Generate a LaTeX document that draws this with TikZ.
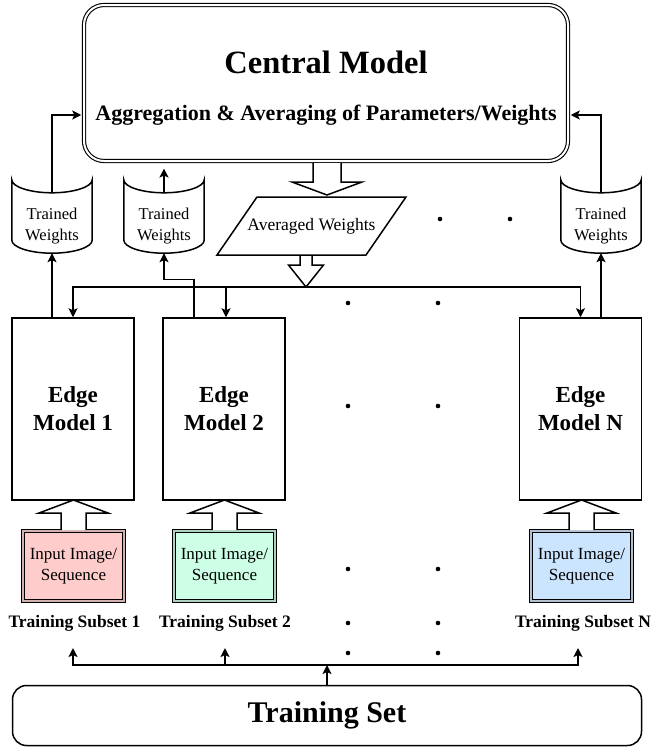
\documentclass[tikz,border=0pt]{standalone}
\usepackage{fontspec}
\setmainfont{Liberation Serif}
\usetikzlibrary{arrows.meta}
\definecolor{inpink}{RGB}{255,204,204}
\definecolor{ingreen}{RGB}{204,255,230}
\definecolor{inblue}{RGB}{204,229,255}
% outline of a "Trained Weights" store round a node
\newcommand{\storeshape}[1]{%
\draw[line] ([yshift=13pt]#1.north west) .. controls ([yshift=6pt]#1.north west) and ([xshift=-22pt]#1.north) .. (#1.north)
  .. controls ([xshift=22pt]#1.north) and ([yshift=6pt]#1.north east) .. ([yshift=13pt]#1.north east)
  -- ([yshift=13pt]#1.south east) .. controls ([yshift=6pt]#1.south east) and ([xshift=22pt]#1.south) .. (#1.south)
  .. controls ([xshift=-22pt]#1.south) and ([yshift=6pt]#1.south west) .. ([yshift=13pt]#1.south west) -- cycle;}
% block arrow: x, y of shaft end, y of head base, y of tip, half shaft, half head
\newcommand{\blockarr}[6]{%
\draw[line, fill=white] (#1-#5,#2) -- (#1-#5,#3) -- (#1-#6,#3) -- (#1,#4) -- (#1+#6,#3) -- (#1+#5,#3) -- (#1+#5,#2);}
\begin{document}
\begin{tikzpicture}[x=1pt,y=1pt,
  line/.style={line width=1.5pt, line join=miter},
  arr/.style={line, -{Stealth[length=9pt,width=9pt,inset=2pt]}},
  central/.style={draw, line width=1.1pt, double, double distance=2pt, rounded corners=20pt,
    minimum width=484pt, minimum height=156pt},
  edgebox/.style={draw, line, minimum width=122pt, minimum height=182pt, align=center,
    font=\fontsize{23}{28}\selectfont\bfseries},
  store/.style={minimum width=80pt, minimum height=60pt, inner sep=0pt},
  storetext/.style={yshift=-3pt, align=center, font=\fontsize{16.5}{21.5}\selectfont},
  inbox/.style={draw, line width=1.3pt, double=#1!65!gray, double distance=1.6pt, fill=#1,
    minimum width=101pt, minimum height=70pt, inner sep=0pt, align=center,
    font=\fontsize{17}{21}\selectfont},
  subset/.style={font=\fontsize{17.5}{21}\selectfont\bfseries},
  tset/.style={draw, line, rounded corners=14pt, minimum width=629pt, minimum height=60pt,
    font=\fontsize{30}{36}\selectfont\bfseries}]
\useasboundingbox (0,0) rectangle (652,-747);

% central model
\node[central] (cm) at (326,-83) {};
\node[font=\fontsize{32.5}{39}\selectfont\bfseries] (ctitle) at (326,-62) {Central Model};
\node[font=\fontsize{22}{26}\selectfont\bfseries] (csub) at (326,-115) {Aggregation \& Averaging of Parameters/Weights};

% trained weights
\node[store, label={[storetext]center:{Trained\\Weights}}] (tw1) at (52,-223) {};
\node[store, label={[storetext]center:{Trained\\Weights}}] (tw2) at (164,-223) {};
\node[store, label={[storetext]center:{Trained\\Weights}}] (twN) at (601,-223) {};
\storeshape{tw1}
\storeshape{tw2}
\storeshape{twN}

% averaged weights
\draw[line] (217,-255) -- (257,-197) -- (406,-197) -- (366,-255) -- cycle;
\node[font=\fontsize{17.5}{21}\selectfont] (avg) at (311.5,-226) {Averaged Weights};
\blockarr{327}{-163}{-182}{-195}{14}{35}
\blockarr{306}{-256}{-265}{-287}{6}{17.5}

% edge models
\node[edgebox] (em1) at (73,-409) {Edge\\Model 1};
\node[edgebox] (em2) at (224,-409) {Edge\\Model 2};
\node[edgebox] (emN) at (580.5,-409) {Edge\\Model N};

\draw[arr] (tw1.north) |- ([xshift=-2.2pt]cm.west |- csub);
\draw[arr, shorten >=7pt] (tw2.north) -- (tw2.north |- cm.south);
\draw[arr] (twN.north) |- ([xshift=2.2pt]cm.east |- csub);

\draw[arr] (em1.north -| tw1) -- (tw1.south);
\draw[arr] ([xshift=-30pt]em2.north) -- ++(0,38) -| (tw2.south);
\draw[arr] (emN.north -| twN) -- (twN.south);

\coordinate (dist) at (306,-287);
\draw[arr] (dist) -| (em1.north);
\draw[arr] (dist) -| ([xshift=2pt]em2.north);
\draw[arr] (dist) -| (emN.north);

% inputs
\node[inbox=inpink] (in1) at (73.5,-566) {Input Image/\\Sequence};
\node[inbox=ingreen] (in2) at (224.5,-566) {Input Image/\\Sequence};
\node[inbox=inblue] (inN) at (581.5,-566) {Input Image/\\Sequence};
\blockarr{73.5}{-530}{-513}{-500}{12.5}{34.5}
\blockarr{224.5}{-530}{-513}{-500}{12.5}{34.5}
\blockarr{581.5}{-530}{-513}{-500}{12.5}{34.5}

\node[subset] (ts1) at (74.5,-623) {Training Subset 1};
\node[subset] (ts2) at (225,-623) {Training Subset 2};
\node[subset] (tsN) at (583,-623) {Training Subset N};

% training set
\node[tset] (tset) at (327,-715.5) {Training Set};
\coordinate (split) at (327,-665);
\coordinate (up1) at (73,-648);
\coordinate (up2) at (225,-648);
\coordinate (upN) at (578,-648);
\draw[arr] (tset.north) -- (split);
\draw[arr] (split) -| (up1);
\draw[arr] (split) -| (up2);
\draw[arr] (split) -| (upN);

% dots
\foreach \px/\py in {440/219,510/219,348/303,438/303,348/406,438/406,348/569,438/569,348/623,438/623,348/653,438/653}
  \fill (\px,-\py) circle (2.3pt);
\end{tikzpicture}
\end{document}
